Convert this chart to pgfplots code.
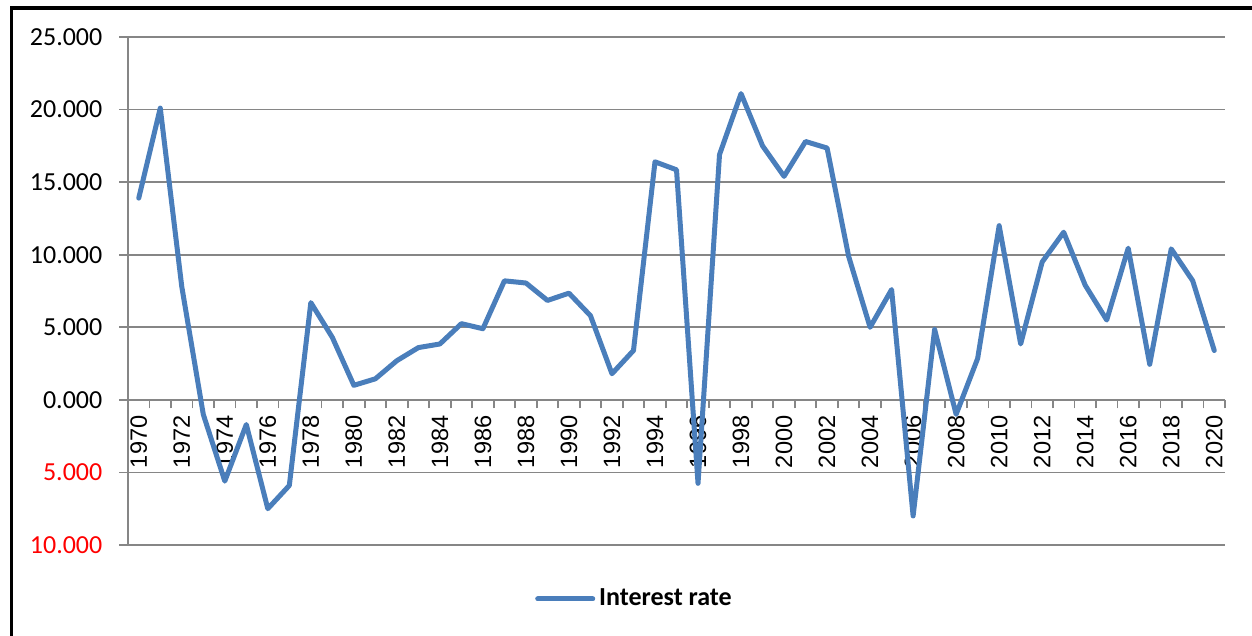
\documentclass[border=0pt]{standalone}
\usepackage{fontspec}
\setmainfont{Carlito}
\newfontfamily\arialfont{Liberation Sans}
\usepackage{pgfplots}
\pgfplotsset{compat=1.18}
\definecolor{serieblue}{RGB}{74,126,187}
\definecolor{gridgray}{RGB}{134,134,134}
\begin{document}
\begin{tikzpicture}
\path[use as bounding box] (0,0) rectangle (626pt,318pt);
\draw[line width=1.8pt, line cap=rect] (5.75pt,0pt) -- (5.75pt,314pt) -- (626pt,314pt);
\begin{axis}[
  at={(64pt,45.5pt)}, anchor=south west,
  scale only axis, width=548.5pt, height=254pt,
  xmin=1969.5, xmax=2020.5, ymin=-10, ymax=25,
  axis y line*=left, axis x line*=middle,
  axis line style={gridgray, line width=0.9pt},
  tick align=outside,
  major tick length=4.3pt, minor tick length=4.3pt,
  tick style={gridgray, line width=0.9pt},
  xtick={1970,1972,...,2020},
  xticklabels={1970,1972,1974,1976,1978,1980,1982,1984,1986,1988,1990,1992,1994,1996,1998,2000,2002,2004,2006,2008,2010,2012,2014,2016,2018,2020},
  minor xtick={1969.5,1970.5,...,2020.5},
  major x tick style={draw=none},
  ytick={-10,-5,...,25},
  yticklabels={\textcolor{red}{10.000},\textcolor{red}{5.000},0.000,5.000,10.000,15.000,20.000,25.000},
  ymajorgrids, grid style={gridgray, line width=0.9pt},
  yticklabel style={font=\fontsize{13}{15}\selectfont, xshift=-5pt},
  xticklabel style={font=\arialfont\fontsize{11.8}{13}\selectfont, rotate=90, anchor=east},
  legend style={at={(0.4626,-0.1063)}, anchor=center, draw=none, fill=none, font=\bfseries\fontsize{13}{15}\selectfont},
  legend cell align=left,
  legend image code/.code={\draw[#1] (0pt,0pt) -- (27.5pt,0pt);},
]
\addplot[serieblue, line width=2.5pt, line join=round, line cap=round] coordinates {
(1970,13.9) (1971,20.1) (1972,7.8) (1973,-1.0) (1974,-5.6) (1975,-1.7) (1976,-7.5) (1977,-5.9) (1978,6.7) (1979,4.3)
(1980,1.0) (1981,1.45) (1982,2.7) (1983,3.6) (1984,3.85) (1985,5.25) (1986,4.9) (1987,8.2) (1988,8.05) (1989,6.85)
(1990,7.35) (1991,5.8) (1992,1.8) (1993,3.4) (1994,16.4) (1995,15.85) (1996,-5.75) (1997,16.9) (1998,21.1) (1999,17.5)
(2000,15.4) (2001,17.8) (2002,17.35) (2003,9.9) (2004,5.0) (2005,7.6) (2006,-8.0) (2007,4.85) (2008,-1.0) (2009,2.85)
(2010,12.0) (2011,3.85) (2012,9.5) (2013,11.55) (2014,7.9) (2015,5.5) (2016,10.45) (2017,2.45) (2018,10.4) (2019,8.2)
(2020,3.4)
};
\addlegendentry{Interest rate}
\end{axis}
\end{tikzpicture}
\end{document}
